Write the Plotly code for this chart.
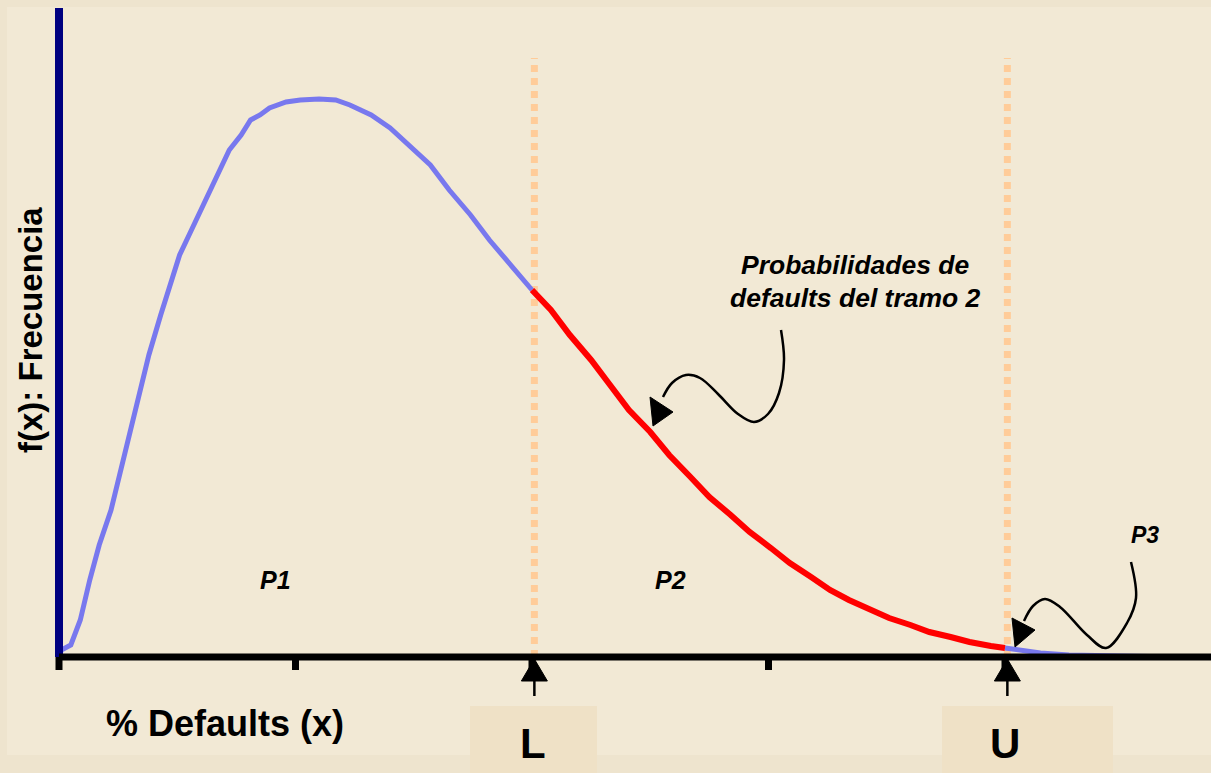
import plotly.graph_objects as go
import numpy as np

# ---------------- data ----------------
x_vals = [0.00, 0.01, 0.05, 0.09, 0.13, 0.17, 0.22, 0.26, 0.30, 0.34, 0.38, 0.43, 0.47, 0.51,
          0.55, 0.60, 0.64, 0.68, 0.72, 0.77, 0.81, 0.85, 0.89, 0.96, 1.02, 1.10, 1.17, 1.23,
          1.32, 1.40, 1.48, 1.57, 1.65, 1.74, 1.82, 1.91, 2.00,
          2.08, 2.16, 2.25, 2.33, 2.41, 2.50, 2.58, 2.67, 2.75, 2.84, 2.92, 3.01, 3.09, 3.18,
          3.26, 3.34, 3.43, 3.51, 3.60, 3.68, 3.77, 3.85, 3.94, 4.00,
          4.06, 4.15, 4.27, 4.40, 4.61, 4.87]
f_vals = [0.00, 0.07, 0.12, 0.37, 0.77, 1.12, 1.47, 1.87, 2.27, 2.67, 3.02, 3.42, 3.72, 4.02,
          4.22, 4.47, 4.67, 4.87, 5.07, 5.22, 5.37, 5.42, 5.49, 5.55, 5.57, 5.58, 5.57, 5.52,
          5.42, 5.29, 5.12, 4.92, 4.67, 4.42, 4.17, 3.92, 3.67,
          3.47, 3.22, 2.97, 2.72, 2.47, 2.25, 2.02, 1.80, 1.60, 1.42, 1.25, 1.09, 0.94, 0.80,
          0.67, 0.57, 0.47, 0.39, 0.32, 0.25, 0.20, 0.15, 0.11, 0.09,
          0.07, 0.04, 0.02, 0.01, 0.005, 0.0]
L_val = 2.0
U_val = 4.0
tick_vals = [0, 1, 2, 3, 4]
y_top = 6.49

# ---------------- geometry helpers (figure pixels -> data) ----------------
W, H = 1211, 773
X0PX, Y0PX, SX, SY = 59.0, 657.0, 236.5, 100.0
def dx(px):
    return (px - X0PX) / SX
def dy(py):
    return (Y0PX - py) / SY

xr = [dx(0), dx(W)]
yr = [dy(H), dy(0)]

x = np.array(x_vals)
f = np.array(f_vals)
m1 = x <= L_val
m2 = (x >= L_val) & (x <= U_val)
m3 = x >= U_val

BG = "#F2E9D5"
BLUE = "#7878EE"
RED = "#FF0000"
FONT = "Liberation Sans, Arial, sans-serif"

fig = go.Figure()
fig.add_trace(go.Scatter(x=x[m1], y=f[m1], mode="lines", line=dict(color=BLUE, width=5), hoverinfo="skip"))
fig.add_trace(go.Scatter(x=x[m3], y=f[m3], mode="lines", line=dict(color=BLUE, width=5), hoverinfo="skip"))
fig.add_trace(go.Scatter(x=x[m2], y=f[m2], mode="lines", line=dict(color=RED, width=6), hoverinfo="skip"))

# curly arrows (decorations)
curl1 = [(781, 330), (784, 360), (779, 393), (768, 414), (754, 422), (738, 414), (718, 394),
         (700, 378), (686, 375), (672, 383), (663, 397)]
head1 = [(653, 426), (650, 397), (673, 412)]
curl2 = [(1131, 562), (1136, 598), (1127, 623), (1106, 648), (1087, 635), (1060, 607),
         (1045, 599), (1033, 606), (1024, 621)]
head2 = [(1015, 647), (1012, 618), (1035, 630)]
for c, h in [(curl1, head1), (curl2, head2)]:
    fig.add_trace(go.Scatter(x=[dx(p[0]) for p in c], y=[dy(p[1]) for p in c], mode="lines",
                             line=dict(color="black", width=2.5, shape="spline", smoothing=1.0),
                             hoverinfo="skip"))
    fig.add_trace(go.Scatter(x=[dx(p[0]) for p in h] + [dx(h[0][0])],
                             y=[dy(p[1]) for p in h] + [dy(h[0][1])], mode="lines",
                             fill="toself", fillcolor="black", line=dict(color="black", width=1),
                             hoverinfo="skip"))

shapes = []
# inner background panel
shapes.append(dict(type="rect", xref="paper", yref="paper", x0=7 / W, x1=1, y0=1 - 755 / H, y1=1 - 7 / H,
                   fillcolor=BG, line=dict(width=0), layer="below"))
# label boxes
for v in (L_val, U_val):
    cx = X0PX + v * SX
    x0 = cx - 62 if v == L_val else cx - 63
    x1 = cx + 65 if v == L_val else cx + 108
    shapes.append(dict(type="rect", xref="x", yref="y", x0=dx(x0), x1=dx(x1), y0=dy(773), y1=dy(706),
                       fillcolor="#EFE1C6", line=dict(width=0), layer="below"))
# dotted verticals
for v in (L_val, U_val):
    shapes.append(dict(type="line", xref="x", yref="y", x0=v + 0.01, x1=v + 0.01, y0=0, y1=dy(58),
                       line=dict(color="#FFCC99", width=7, dash="7px,6px"), layer="below"))
# y axis line
shapes.append(dict(type="line", xref="x", yref="y", x0=0, x1=0, y0=0, y1=y_top,
                   line=dict(color="#000080", width=8)))
# x axis line
shapes.append(dict(type="line", xref="x", yref="y", x0=0, x1=xr[1], y0=0, y1=0,
                   line=dict(color="black", width=7)))
# ticks
for t in tick_vals:
    shapes.append(dict(type="line", xref="x", yref="y", x0=t, x1=t, y0=0, y1=-0.13,
                       line=dict(color="black", width=7)))
# up arrows at L and U
for v in (L_val, U_val):
    xc = v + 0.01
    hw = 13 / SX
    shapes.append(dict(type="path", xref="x", yref="y",
                       path=f"M {xc},{dy(659)} L {xc - hw},{dy(681)} L {xc + hw},{dy(681)} Z",
                       fillcolor="black", line=dict(color="black", width=1)))
    shapes.append(dict(type="line", xref="x", yref="y", x0=xc, x1=xc, y0=dy(680), y1=dy(696),
                       line=dict(color="black", width=2.5)))

ann = []
def txt(text, px, py, size, italic=False, angle=0):
    t = f"<i>{text}</i>" if italic else text
    ann.append(dict(text=f"<b>{t}</b>", x=dx(px), y=dy(py), xref="x", yref="y", showarrow=False,
                    font=dict(family=FONT, size=size, color="black"), textangle=angle,
                    xanchor="center", yanchor="middle"))

txt("% Defaults (x)", 225, 723, 36)
txt("f(x): Frecuencia", 30, 330, 33, angle=-90)
txt("L", 533, 743, 42)
txt("U", 1005, 743, 42)
txt("P1", 275, 580, 25, italic=True)
txt("P2", 670, 580, 25, italic=True)
txt("P3", 1145, 535, 23, italic=True)
txt("Probabilidades de", 855, 265, 26.5, italic=True)
txt("defaults del tramo 2", 855, 298, 26.5, italic=True)

fig.update_layout(
    width=W, height=H, margin=dict(l=0, r=0, t=0, b=0),
    paper_bgcolor="#EEE4CE", plot_bgcolor="rgba(0,0,0,0)",
    showlegend=False, shapes=shapes, annotations=ann,
    xaxis=dict(range=xr, visible=False, fixedrange=True),
    yaxis=dict(range=yr, visible=False, fixedrange=True),
)
fig.write_html("out.html", config={"displayModeBar": False},
               post_script="document.body.style.margin='0px';document.body.style.overflow='hidden';")
